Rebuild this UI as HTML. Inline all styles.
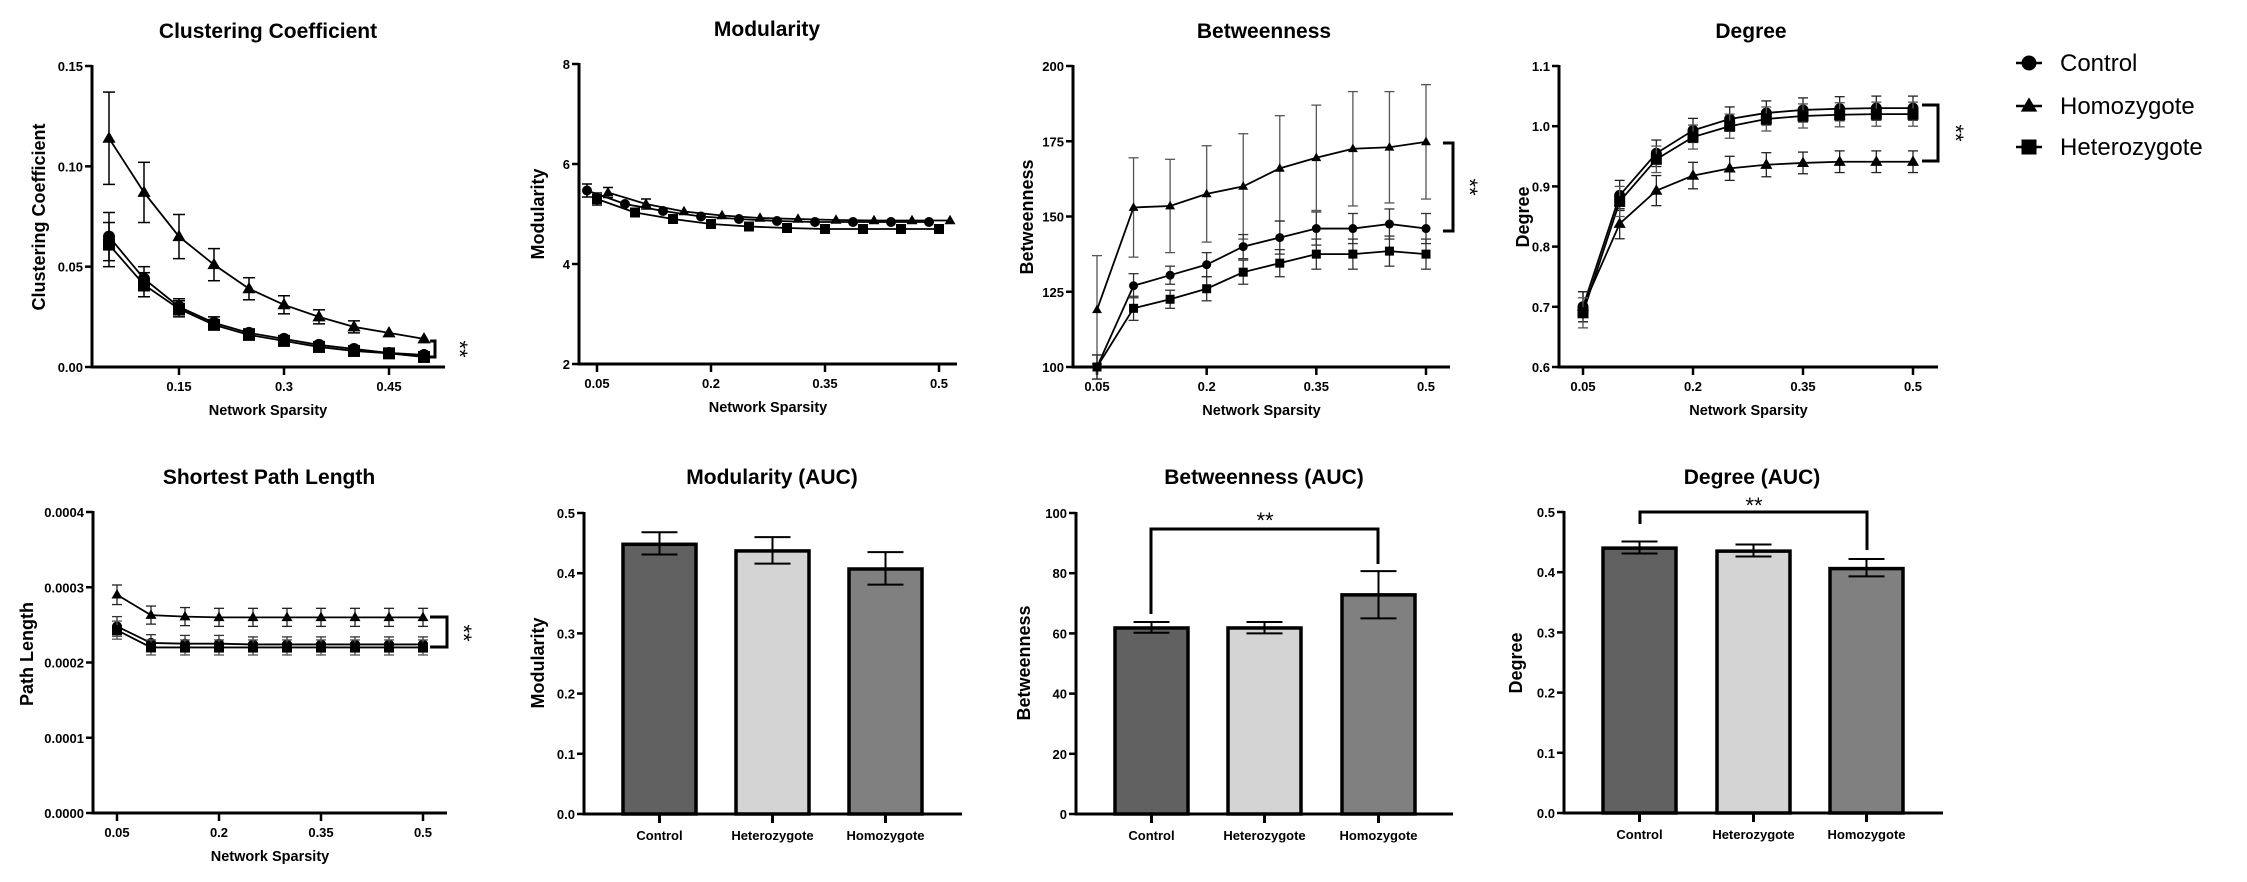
<!DOCTYPE html>
<html><head><meta charset="utf-8"><style>
html,body{margin:0;padding:0;background:#fff;}
svg{display:block;font-family:"Liberation Sans",Arial,sans-serif;}
</style></head><body>
<svg id="s" width="2247" height="882" viewBox="0 0 2247 882" xmlns="http://www.w3.org/2000/svg"></svg>
<script>
const S=document.getElementById('s');
const NS='http://www.w3.org/2000/svg';
function el(t,a,txt){const e=document.createElementNS(NS,t);for(const k in a)e.setAttribute(k,a[k]);if(txt!==undefined)e.textContent=txt;S.appendChild(e);return e;}
function line(x1,y1,x2,y2,w,c){el('line',{x1,y1,x2,y2,stroke:c||'#000','stroke-width':w||1});}
function text(x,y,s,sz,opt){opt=opt||{};const a={x,y,'font-size':sz,'font-weight':opt.w||'bold','text-anchor':opt.a||'middle',fill:'#000'};if(opt.rot)a.transform='rotate(-90 '+x+' '+y+')';if(opt.rot90)a.transform='rotate(90 '+x+' '+y+')';el('text',a,s);}
function marker(type,x,y,r){
 if(type==='c')el('circle',{cx:x,cy:y,r:r,fill:'#000'});
 else if(type==='s')el('rect',{x:x-r,y:y-r,width:2*r,height:2*r,fill:'#000'});
 else el('polygon',{points:`${x},${y-r*1.15} ${x-r*1.1},${y+r*0.75} ${x+r*1.1},${y+r*0.75}`,fill:'#000'});
}
function axes(c){
 line(c.ax,c.yt-1,c.ax,c.yb+1.5,3);
 line(c.ax-1.5,c.yb,c.xe,c.yb,3);
 c.yticks.forEach(([v,l])=>{const y=c.ym(v);line(c.ax-7,y,c.ax,y,2.5);text(c.ax-9,y+5,l,13,{a:'end'});});
 (c.xticks||[]).forEach(([v,l])=>{const x=c.xm(v);line(x,c.yb,x,c.yb+8,2.5);text(x,c.yb+24,l,13);});
 text(c.tx,c.ty,c.title,21);
 text(c.lx,c.ly,c.ylabel,c.lsz||18,{rot:1});
 if(c.xlabel)text(c.tx2||((c.ax+c.xe)/2),c.yb+48,c.xlabel,14.5);
}
function lineChart(c){
 axes(c);
 c.series.forEach(se=>{
  const pts=se.d.map((v,i)=>[c.xm(0.05+0.05*i)+(se.off||0),c.ym(v)]);
  el('polyline',{points:pts.map(p=>p.join(',')).join(' '),fill:'none',stroke:'#000','stroke-width':se.lw||1.8});
  pts.forEach((p,i)=>{const e=se.e?se.e[i]:0;if(e){const y1=c.ym(se.d[i]+e),y2=c.ym(se.d[i]-e);const col=se.ec||'#000';line(p[0],y1,p[0],y2,se.ew||1.5,col);line(p[0]-c.cap,y1,p[0]+c.cap,y1,se.ew||1.5,col);line(p[0]-c.cap,y2,p[0]+c.cap,y2,se.ew||1.5,col);}});
  pts.forEach(p=>marker(se.m,p[0],p[1],c.mr));
 });
}
function lin(v0,p0,v1,p1){return v=>p0+(v-v0)*(p1-p0)/(v1-v0);}
function bracket(x1,x2,y1,y2){el('polyline',{points:`${x1},${y1} ${x2},${y1} ${x2},${y2} ${x1},${y2}`,fill:'none',stroke:'#000','stroke-width':3});}
function stars(x,y){text(x-6,y,'**',22,{w:'normal',rot90:1});}

lineChart({ax:92,yt:66,yb:367,xe:445,ym:lin(0,367,0.15,66),xm:lin(0.05,109,0.5,424),
 yticks:[[0,'0.00'],[0.05,'0.05'],[0.1,'0.10'],[0.15,'0.15']],xticks:[[0.15,'0.15'],[0.3,'0.3'],[0.45,'0.45']],
 title:'Clustering Coefficient',tx:268,ty:38,ylabel:'Clustering Coefficient',lx:45,ly:217,xlabel:'Network Sparsity',tx2:268,
 cap:6,mr:6,series:[
 {m:'t',d:[.114,.087,.065,.051,.039,.031,.025,.020,.017,.014],e:[.023,.015,.011,.008,.0055,.0045,.0035,.003,0,0]},
 {m:'c',d:[.065,.044,.030,.022,.017,.014,.011,.009,.007,.006],e:[.012,.006,.004,.003,.002,0,0,0,0,0]},
 {m:'s',d:[.061,.041,.029,.021,.016,.013,.010,.008,.0068,.005],e:[.011,.006,.004,.002,.002,0,0,0,0,0]}]});
bracket(430,435,341,357);stars(458,349);

lineChart({ax:579,yt:64,yb:364,xe:957,ym:lin(2,364,8,64),xm:lin(0.05,597,0.5,939),
 yticks:[[2,'2'],[4,'4'],[6,'6'],[8,'8']],xticks:[[0.05,'0.05'],[0.2,'0.2'],[0.35,'0.35'],[0.5,'0.5']],
 title:'Modularity',tx:767,ty:36,ylabel:'Modularity',lx:544,ly:214,xlabel:'Network Sparsity',
 cap:5,mr:5,series:[
 {m:'c',off:-10,d:[5.47,5.2,5.06,4.95,4.9,4.86,4.84,4.84,4.84,4.84],e:[.13,0,0,0,0,0,0,0,0,0]},
 {m:'s',off:0,d:[5.3,5.03,4.9,4.8,4.75,4.72,4.7,4.7,4.7,4.7],e:[.12,0,0,0,0,0,0,0,0,0]},
 {m:'t',off:11,d:[5.43,5.2,5.05,4.97,4.92,4.9,4.88,4.87,4.87,4.87],e:[.1,.1,0,0,0,0,0,0,0,0],lw:0}]});

lineChart({ax:1073,yt:66,yb:367,xe:1450,ym:lin(100,367,200,66),xm:lin(0.05,1097,0.5,1426),
 yticks:[[100,'100'],[125,'125'],[150,'150'],[175,'175'],[200,'200']],xticks:[[0.05,'0.05'],[0.2,'0.2'],[0.35,'0.35'],[0.5,'0.5']],
 title:'Betweenness',tx:1264,ty:38,ylabel:'Betweenness',lx:1033,ly:217,xlabel:'Network Sparsity',
 cap:5,mr:4.5,series:[
 {m:'t',d:[119,153,153.5,157.5,160,166,169.5,172.5,173,174.8],e:[18,16.5,15.5,16,17.5,17.5,17.5,19,18.5,19],ec:'#555',ew:1.3},
 {m:'c',d:[100,127,130.5,134,140,143,146,146,147.5,146],e:[4,4,3,4,4,5.5,5.5,5,5,5],ec:'#333',ew:1.3},
 {m:'s',d:[100,119.5,122.5,126,131.5,134.5,137.5,137.5,138.5,137.5],e:[4,4,3,4,4,4.5,5,5,5,5],ec:'#333',ew:1.3}]});
bracket(1443,1453,143,231);stars(1468,187);

lineChart({ax:1559,yt:66,yb:367,xe:1938,ym:lin(0.6,367,1.1,66),xm:lin(0.05,1583,0.5,1913),
 yticks:[[0.6,'0.6'],[0.7,'0.7'],[0.8,'0.8'],[0.9,'0.9'],[1.0,'1.0'],[1.1,'1.1']],xticks:[[0.05,'0.05'],[0.2,'0.2'],[0.35,'0.35'],[0.5,'0.5']],
 title:'Degree',tx:1751,ty:38,ylabel:'Degree',lx:1529,ly:217,xlabel:'Network Sparsity',
 cap:5,mr:5.5,series:[
 {m:'t',d:[.70,.838,.893,.918,.930,.936,.939,.941,.941,.941],e:[.025,.025,.025,.022,.02,.02,.018,.018,.018,.018],ec:'#222',ew:1.3},
 {m:'c',d:[.70,.885,.955,.993,1.012,1.022,1.027,1.029,1.030,1.030],e:[.025,.025,.022,.02,.02,.02,.02,.02,.02,.02],ec:'#222',ew:1.3},
 {m:'s',d:[.69,.875,.945,.982,1.0,1.012,1.017,1.019,1.020,1.020],e:[.025,.025,.022,.02,.02,.02,.02,.02,.02,.02],ec:'#555',ew:1.3}]});
bracket(1922,1938,105,161);stars(1954,133);

[['c','Control',63],['t','Homozygote',106],['s','Heterozygote',147]].forEach(([m,l,y])=>{
 line(2016,y,2042,y,2.5);marker(m,2029,y,7.5);text(2060,y+8,l,24,{w:'normal',a:'start'});});

lineChart({ax:93,yt:512,yb:813,xe:447,ym:lin(0,813,0.0004,512),xm:lin(0.05,117,0.5,423),
 yticks:[[0,'0.0000'],[0.0001,'0.0001'],[0.0002,'0.0002'],[0.0003,'0.0003'],[0.0004,'0.0004']],xticks:[[0.05,'0.05'],[0.2,'0.2'],[0.35,'0.35'],[0.5,'0.5']],
 title:'Shortest Path Length',tx:269,ty:484,ylabel:'Path Length',lx:33,ly:654,xlabel:'Network Sparsity',
 cap:5,mr:5,series:[
 {m:'t',d:[.000290,.000263,.000261,.00026,.00026,.00026,.00026,.00026,.00026,.00026],e:[.000013,.000012,.000012,.000012,.000012,.000012,.000012,.000012,.000012,.000012],ec:'#222',ew:1.3},
 {m:'c',d:[.000248,.000226,.000225,.000225,.000224,.000224,.000224,.000224,.000224,.000224],e:[.000013,.000011,.000011,.000011,.00001,.00001,.00001,.00001,.00001,.00001],ec:'#333',ew:1.3},
 {m:'s',d:[.000243,.00022,.00022,.00022,.00022,.00022,.00022,.00022,.00022,.00022],e:[.000012,.00001,.00001,.00001,.00001,.00001,.00001,.00001,.00001,.00001],ec:'#555',ew:1.3}]});
bracket(430,447,617,647);stars(462,633);

function barChart(c){
 axes(c);
 const cols=['#616161','#d4d4d4','#808080'],labs=['Control','Heterozygote','Homozygote'];
 c.bars.forEach((b,i)=>{
  const x=c.bx[i],w=73,y=c.ym(b[0]);
  line(x+w/2,c.yb,x+w/2,c.yb+9,3);
  el('rect',{x:x,y:y,width:w,height:c.yb-y,fill:cols[i],stroke:'#000','stroke-width':3.5});
  const y1=c.ym(b[1]),y2=c.ym(b[2]),cx=x+w/2;
  line(cx,y1,cx,y2,2);line(cx-18,y1,cx+18,y1,2);line(cx-18,y2,cx+18,y2,2);
  text(cx,c.yb+26,labs[i],13);
 });
}
barChart({ax:584,yt:513,yb:814,xe:962,ym:lin(0,814,0.5,513),
 yticks:[[0,'0.0'],[0.1,'0.1'],[0.2,'0.2'],[0.3,'0.3'],[0.4,'0.4'],[0.5,'0.5']],
 title:'Modularity (AUC)',tx:772,ty:484,ylabel:'Modularity',lx:544,ly:663,
 bx:[623,736,849],bars:[[.448,.468,.431],[.437,.460,.416],[.407,.435,.381]]});
barChart({ax:1076,yt:513,yb:814,xe:1453,ym:lin(0,814,100,513),
 yticks:[[0,'0'],[20,'20'],[40,'40'],[60,'60'],[80,'80'],[100,'100']],
 title:'Betweenness (AUC)',tx:1264,ty:484,ylabel:'Betweenness',lx:1030,ly:663,
 bx:[1115,1228,1342],bars:[[61.8,63.8,60.2],[61.8,63.8,60],[72.8,80.7,65]]});
el('polyline',{points:'1151,614 1151,529 1378,529 1378,564',fill:'none',stroke:'#000','stroke-width':3});
text(1265,528,'**',22,{w:'normal'});
barChart({ax:1564,yt:512,yb:813,xe:1943,ym:lin(0,813,0.5,512),
 yticks:[[0,'0.0'],[0.1,'0.1'],[0.2,'0.2'],[0.3,'0.3'],[0.4,'0.4'],[0.5,'0.5']],
 title:'Degree (AUC)',tx:1752,ty:484,ylabel:'Degree',lx:1522,ly:663,
 bx:[1603,1717,1830],bars:[[.440,.451,.431],[.435,.446,.426],[.406,.422,.393]]});
el('polyline',{points:'1640,524 1640,512 1867,512 1867,550',fill:'none',stroke:'#000','stroke-width':3});
text(1754,513,'**',22,{w:'normal'});
</script>
</body></html>
